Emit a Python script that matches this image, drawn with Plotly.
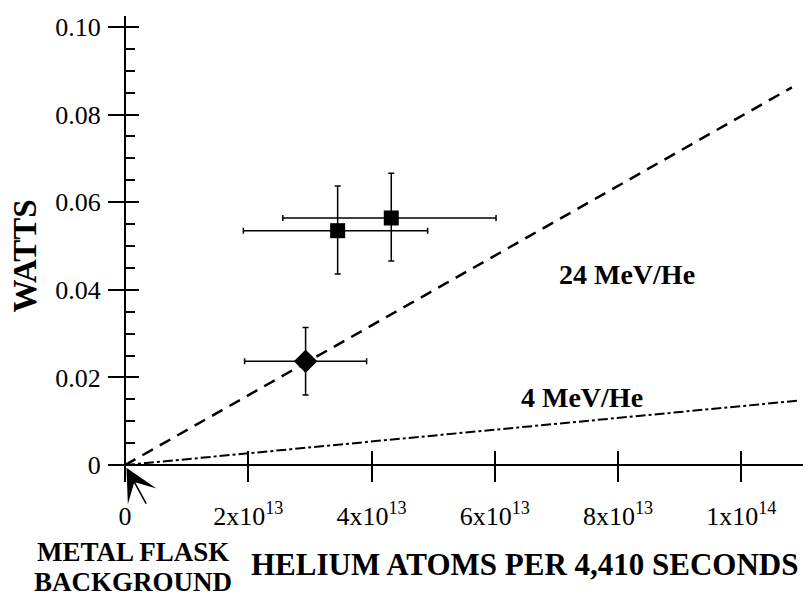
import plotly.graph_objects as go

# measured points (helium atoms, watts) with asymmetric error bars
square_x = [3.45e13, 4.32e13]
square_y = [0.0535, 0.0564]
square_x_plus = [1.46e13, 1.70e13]
square_x_minus = [1.53e13, 1.76e13]
square_y_plus = [0.0102, 0.0102]
square_y_minus = [0.0099, 0.0098]

diamond_x = [2.93e13]
diamond_y = [0.0237]
diamond_x_plus = [0.99e13]
diamond_x_minus = [0.99e13]
diamond_y_plus = [0.0077]
diamond_y_minus = [0.0077]

# theory lines
line24_x = [0, 1.082e14]
line24_y = [0, 0.0862]
line4_x = [0, 1.092e14]
line4_y = [0, 0.0147]

x_tickvals = [0, 2e13, 4e13, 6e13, 8e13, 1e14]
x_ticktext = ['0', '2x10<sup>13</sup>', '4x10<sup>13</sup>', '6x10<sup>13</sup>',
              '8x10<sup>13</sup>', '1x10<sup>14</sup>']
y_tickvals = [0, 0.02, 0.04, 0.06, 0.08, 0.10]
y_ticktext = ['0', '0.02', '0.04', '0.06', '0.08', '0.10']

FONT = 'Liberation Serif'
X_RANGE = [-0.1947e13, 1.1e14]
Y_RANGE = [-0.0034, 0.1025]
X_POS = 0.0321   # paper position of the x axis line (y = 0)
Y_POS = 0.01739  # paper position of the y axis line (x = 0)

fig = go.Figure()

fig.add_trace(go.Scatter(x=line24_x, y=line24_y, mode='lines',
                         line=dict(color='black', width=2.5, dash='12px,8px'),
                         showlegend=False, hoverinfo='skip'))
fig.add_trace(go.Scatter(x=line4_x, y=line4_y, mode='lines',
                         line=dict(color='black', width=2, dash='10px,3px,3px,3px'),
                         showlegend=False, hoverinfo='skip'))

fig.add_trace(go.Scatter(
    x=square_x, y=square_y, mode='markers',
    marker=dict(symbol='square', size=15, color='black'),
    error_x=dict(type='data', array=square_x_plus, arrayminus=square_x_minus,
                 color='black', thickness=1.5, width=3),
    error_y=dict(type='data', array=square_y_plus, arrayminus=square_y_minus,
                 color='black', thickness=1.5, width=3),
    showlegend=False))
fig.add_trace(go.Scatter(
    x=diamond_x, y=diamond_y, mode='markers',
    marker=dict(symbol='diamond', size=18, color='black'),
    error_x=dict(type='data', array=diamond_x_plus, arrayminus=diamond_x_minus,
                 color='black', thickness=1.5, width=3),
    error_y=dict(type='data', array=diamond_y_plus, arrayminus=diamond_y_minus,
                 color='black', thickness=1.5, width=3),
    showlegend=False))

# dummy trace so the overlay axes get drawn
fig.add_trace(go.Scatter(x=[None], y=[None], xaxis='x2', yaxis='y2',
                         showlegend=False, hoverinfo='skip'))

# margins allow for the 8px page margin around the plot div
fig.update_layout(
    width=812, height=599,
    margin=dict(l=105, r=17, t=5, b=127),
    paper_bgcolor='white', plot_bgcolor='white',
    font=dict(family=FONT, color='black', size=26),
    xaxis=dict(range=X_RANGE, anchor='free', position=X_POS,
               showline=True, linecolor='black', linewidth=2,
               showgrid=False, zeroline=False,
               tickmode='array', tickvals=x_tickvals, ticktext=x_ticktext,
               ticks='outside', ticklen=16, tickwidth=2, tickcolor='black',
               ticklabelstandoff=12,
               tickfont=dict(family=FONT, size=26)),
    yaxis=dict(range=Y_RANGE, anchor='free', position=Y_POS,
               showline=True, linecolor='black', linewidth=2,
               showgrid=False, zeroline=False,
               tickmode='array', tickvals=y_tickvals, ticktext=y_ticktext,
               ticks='outside', ticklen=16, tickwidth=2, tickcolor='black',
               ticklabelstandoff=2,
               minor=dict(ticks='inside', ticklen=9, tickwidth=2, tickcolor='black',
                          dtick=0.005, tick0=0, showgrid=False),
               tickfont=dict(family=FONT, size=26)),
    xaxis2=dict(range=X_RANGE, overlaying='x', anchor='free', position=X_POS,
                showline=False, showgrid=False, zeroline=False,
                tickmode='array', tickvals=x_tickvals[1:], showticklabels=False,
                ticks='inside', ticklen=14, tickwidth=2, tickcolor='black'),
    yaxis2=dict(range=Y_RANGE, overlaying='y', anchor='free', position=Y_POS,
                showline=False, showgrid=False, zeroline=False,
                tickmode='array', tickvals=y_tickvals[1:], showticklabels=False,
                ticks='inside', ticklen=13, tickwidth=2, tickcolor='black'),
)

bold = dict(family=FONT, color='black')
fig.add_annotation(text='<b>WATTS</b>', xref='paper', yref='paper',
                   x=-0.1275, xanchor='center', y=0.482, yanchor='middle',
                   textangle=-90, showarrow=False,
                   font=dict(size=33, **bold))
fig.add_annotation(text='<b>HELIUM ATOMS PER 4,410 SECONDS</b>', xref='paper', yref='paper',
                   x=0.9957, xanchor='right', y=-0.182, yanchor='middle', showarrow=False,
                   font=dict(size=31, **bold))
fig.add_annotation(text='<b>METAL FLASK</b>', xref='paper', yref='paper',
                   x=0.029, xanchor='center', y=-0.156, yanchor='middle', showarrow=False,
                   font=dict(size=27, **bold))
fig.add_annotation(text='<b>BACKGROUND</b>', xref='paper', yref='paper',
                   x=0.029, xanchor='center', y=-0.2206, yanchor='middle', showarrow=False,
                   font=dict(size=27, **bold))
fig.add_annotation(text='<b>24 MeV/He</b>', x=8.14e13, y=0.0435, showarrow=False,
                   font=dict(size=28, **bold))
fig.add_annotation(text='<b>4 MeV/He</b>', x=7.41e13, y=0.0154, showarrow=False,
                   font=dict(size=28, **bold))
# arrow pointing at the origin
fig.add_annotation(text='', x=0, y=0, ax=22, ay=40, showarrow=True,
                   arrowhead=3, arrowsize=3.4, arrowwidth=1.6, arrowcolor='black',
                   standoff=3)

fig.write_html('out.html')
